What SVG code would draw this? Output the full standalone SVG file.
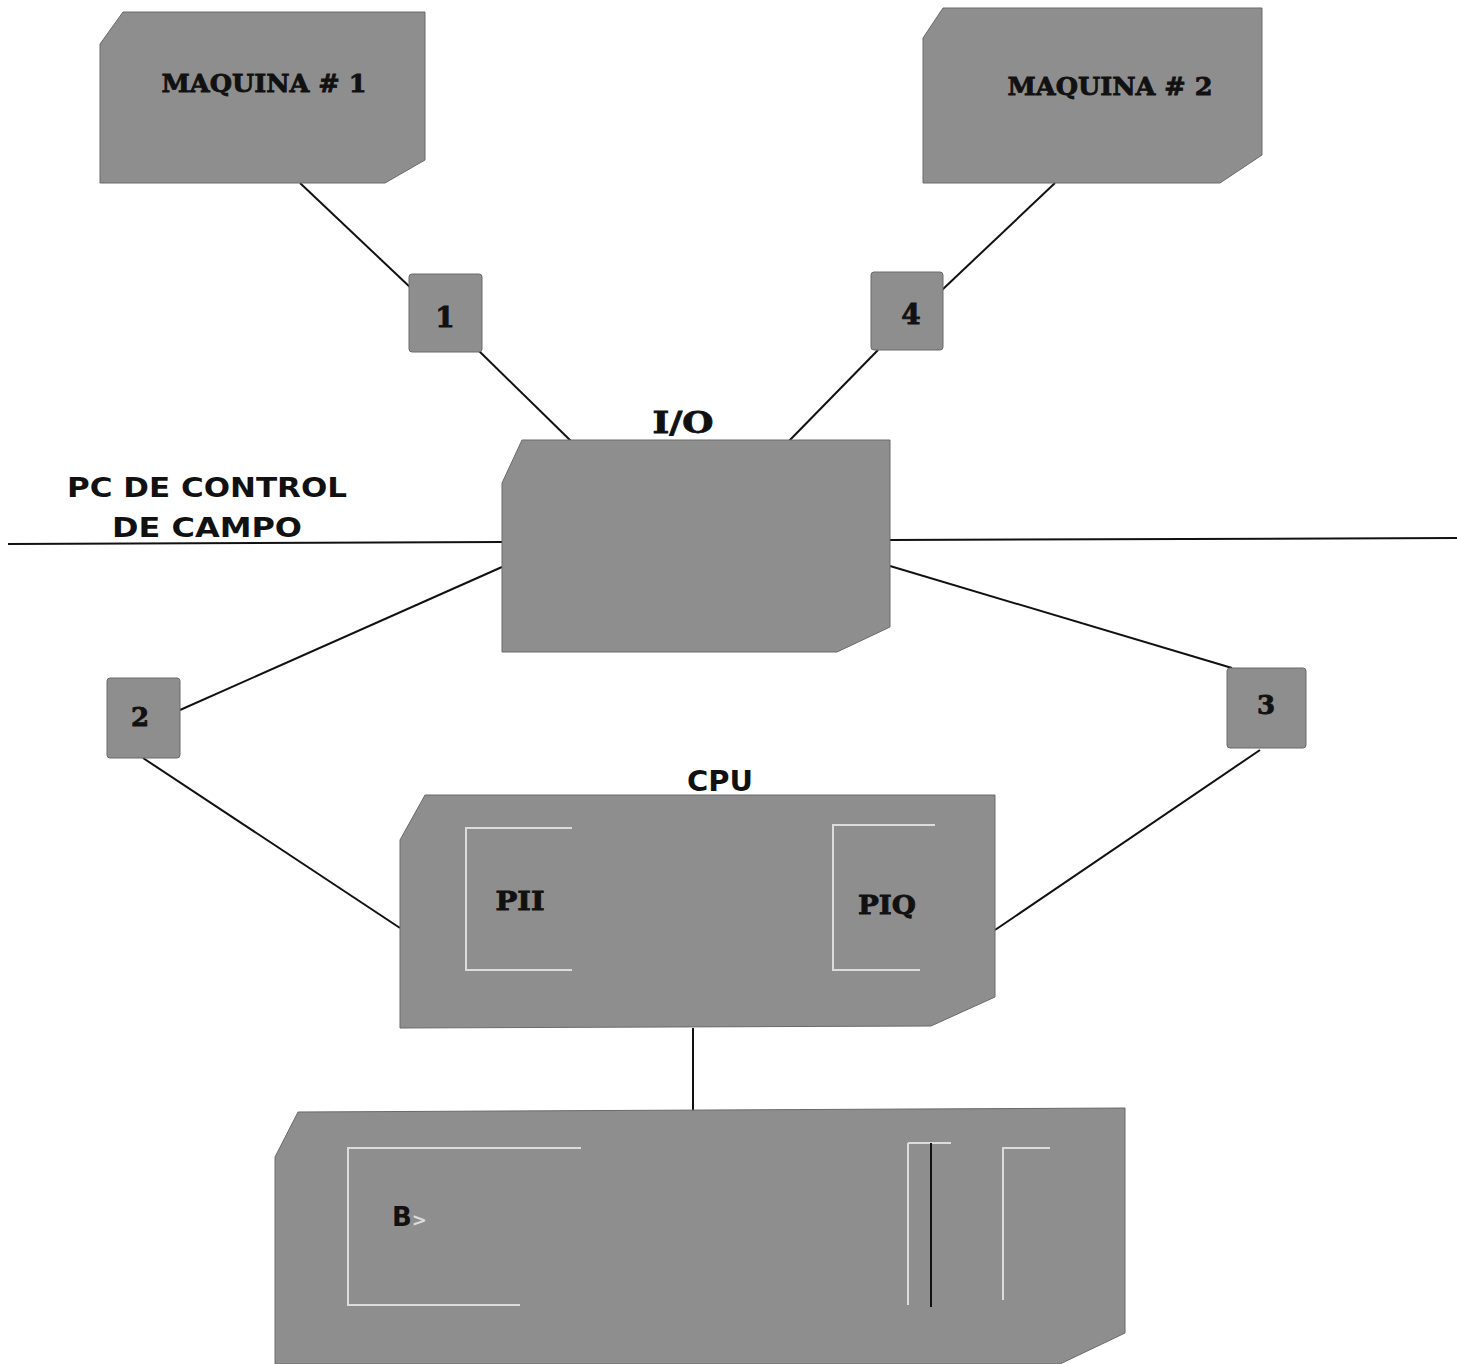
<svg xmlns="http://www.w3.org/2000/svg" width="1457" height="1364" viewBox="0 0 1457 1364">
<style>
.shape{fill:#8e8e8e;stroke:#6a6a6a;stroke-width:1}
.lbl{font-family:"DejaVu Serif","Liberation Serif",serif;font-weight:bold;fill:#111;stroke:#111;stroke-width:0.8}
.sans{font-family:"DejaVu Sans","Liberation Sans",sans-serif;font-weight:bold;fill:#111}
.con{stroke:#111;stroke-width:2;fill:none}
.inner{stroke:#dcdcdc;stroke-width:2;fill:none}
</style>
<rect width="1457" height="1364" fill="#fff"/>
<g id="connectors">
<line class="con" x1="8" y1="544" x2="502" y2="542"/>
<line class="con" x1="890" y1="540" x2="1457" y2="538"/>
<line class="con" x1="300" y1="183" x2="412" y2="289"/>
<line class="con" x1="478" y1="350" x2="572" y2="442"/>
<line class="con" x1="1055" y1="183" x2="942" y2="290"/>
<line class="con" x1="878" y1="350" x2="788" y2="442"/>
<line class="con" x1="502" y1="567" x2="180" y2="710"/>
<line class="con" x1="143" y1="758" x2="400" y2="928"/>
<line class="con" x1="890" y1="566" x2="1232" y2="668"/>
<line class="con" x1="1260" y1="750" x2="995" y2="930"/>
<line class="con" x1="693" y1="1028" x2="693" y2="1112"/>
</g>
<g id="maquina1">
<polygon class="shape" points="123,12 425,12 425,160 385,183 100,183 100,44"/>
<text class="lbl" x="264" y="92" font-size="24" text-anchor="middle" textLength="205" lengthAdjust="spacingAndGlyphs">MAQUINA # 1</text>
</g>
<g id="maquina2">
<polygon class="shape" points="943,8 1262,8 1262,155 1220,183 923,183 923,38"/>
<text class="lbl" x="1110" y="95" font-size="24" text-anchor="middle" textLength="205" lengthAdjust="spacingAndGlyphs">MAQUINA # 2</text>
</g>
<g id="box1">
<rect class="shape" x="409" y="274" width="73" height="78" rx="3"/>
<text class="lbl" x="445" y="327" font-size="28" text-anchor="middle">1</text>
</g>
<g id="box4">
<rect class="shape" x="871" y="272" width="72" height="78" rx="3"/>
<text class="lbl" x="911" y="324" font-size="28" text-anchor="middle">4</text>
</g>
<g id="box2">
<rect class="shape" x="107" y="678" width="73" height="80" rx="3"/>
<text class="lbl" x="140" y="726" font-size="26" text-anchor="middle">2</text>
</g>
<g id="box3">
<rect class="shape" x="1227" y="668" width="79" height="80" rx="3"/>
<text class="lbl" x="1266" y="714" font-size="26" text-anchor="middle">3</text>
</g>
<g id="io">
<polygon class="shape" points="522,440 890,440 890,627 837,652 502,652 502,483"/>
<text class="lbl" x="683" y="433" font-size="29" text-anchor="middle" textLength="61" lengthAdjust="spacingAndGlyphs">I/O</text>
</g>
<g id="pc-label">
<text class="sans" x="207" y="497" font-size="26" text-anchor="middle" textLength="280" lengthAdjust="spacingAndGlyphs">PC DE CONTROL</text>
<text class="sans" x="207" y="537" font-size="26" text-anchor="middle" textLength="190" lengthAdjust="spacingAndGlyphs">DE CAMPO</text>
</g>
<g id="cpu">
<polygon class="shape" points="425,795 995,795 995,997 931,1026 400,1028 400,840"/>
<polyline class="inner" points="572,828 466,828 466,970 572,970"/>
<polyline class="inner" points="935,825 833,825 833,970 920,970"/>
<text class="lbl" x="520" y="910" font-size="26" text-anchor="middle" textLength="49" lengthAdjust="spacingAndGlyphs">PII</text>
<text class="lbl" x="887" y="914" font-size="26" text-anchor="middle" textLength="58" lengthAdjust="spacingAndGlyphs">PIQ</text>
<text class="sans" x="720" y="791" font-size="28" text-anchor="middle" textLength="66" lengthAdjust="spacingAndGlyphs">CPU</text>
</g>
<g id="bottom">
<polygon class="shape" points="298,1112 1125,1108 1125,1333 1060,1364 275,1364 275,1157"/>
<polyline class="inner" points="581,1148 348,1148 348,1305 520,1305"/>
<line class="inner" x1="908" y1="1143" x2="908" y2="1305"/>
<line class="inner" x1="908" y1="1143" x2="951" y2="1143"/>
<line x1="931" y1="1143" x2="931" y2="1307" stroke="#111" stroke-width="2"/>
<polyline class="inner" points="1050,1148 1003,1148 1003,1300"/>
<text class="sans" x="392" y="1226" font-size="26">B<tspan fill="#ddd" font-size="18">&gt;</tspan></text>
</g>
</svg>
